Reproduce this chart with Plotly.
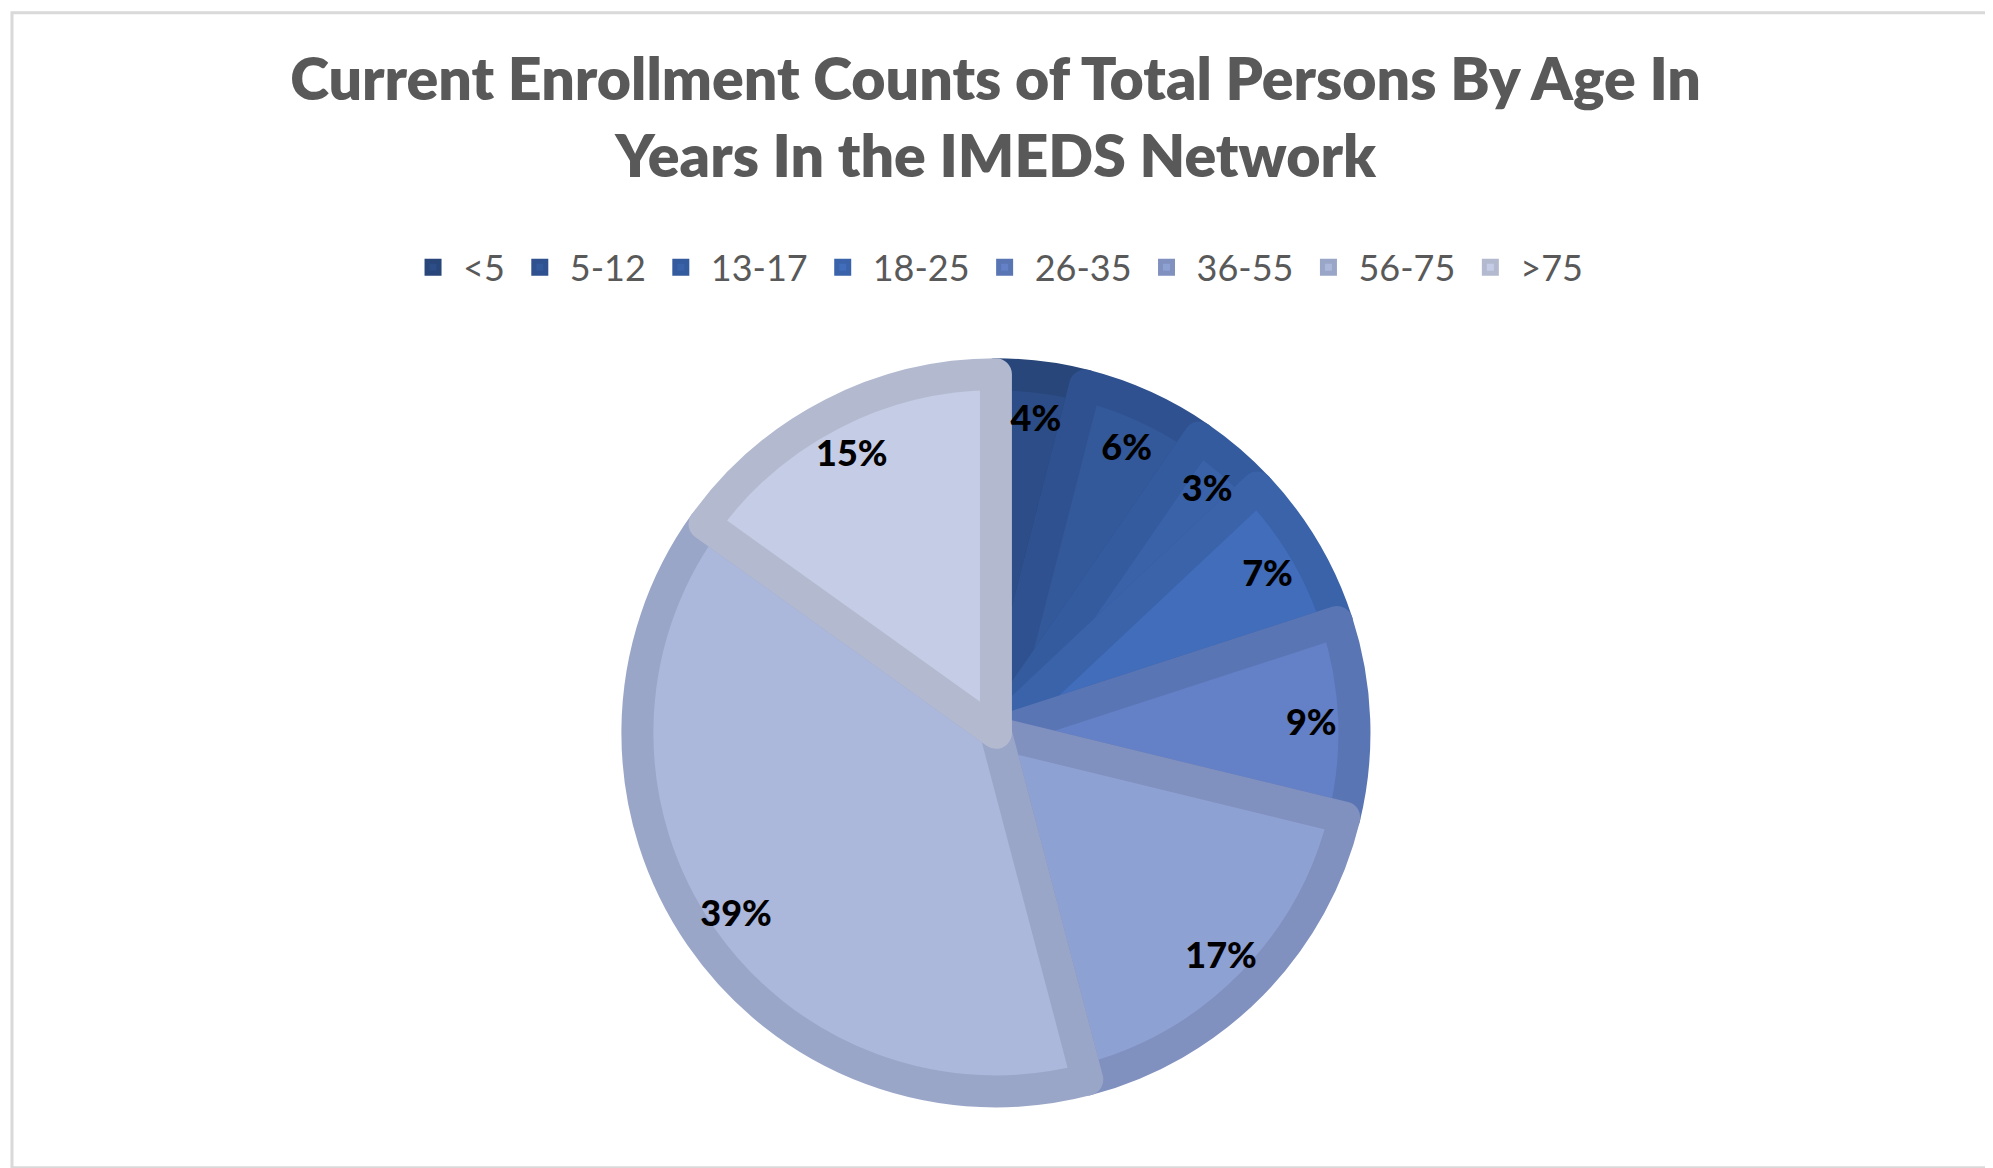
import plotly.graph_objects as go

labels = ["<5", "5-12", "13-17", "18-25", "26-35", "36-55", "56-75", ">75"]
values = [4.0, 5.6, 3.4, 7.0, 8.8, 17.1, 39.0, 15.1]
fill_colors = ["#2C4D87", "#33599B", "#3962A9", "#416DBA", "#6480C6", "#8EA1D3", "#ABB8DB", "#C5CDE6"]
edge_colors = ["#284679", "#2F518F", "#345B9E", "#3A63AA", "#5A75B4", "#8090BF", "#9AA6C8", "#B3BAD0"]

W, H = 1993, 1168
dom = dict(x=[0.3158, 0.6756], y=[0.0724, 0.6864])

fig = go.Figure()
# coloured slices with thick borders
fig.add_trace(go.Pie(
    labels=labels,
    values=values,
    sort=False,
    direction="clockwise",
    rotation=0,
    marker=dict(colors=fill_colors, line=dict(color=edge_colors, width=32)),
    textinfo="none",
    domain=dom,
    hoverinfo="label+percent",
))
# transparent ring carrying the percentage labels near the rim
fig.add_trace(go.Pie(
    labels=labels,
    values=values,
    sort=False,
    direction="clockwise",
    rotation=0,
    hole=0.76,
    marker=dict(colors=["rgba(0,0,0,0)"] * len(labels), line=dict(width=0)),
    texttemplate="%{percent:.0%}",
    textposition="inside",
    insidetextorientation="horizontal",
    textfont=dict(family="Lato", size=36, color="#000000", weight=900),
    domain=dom,
    showlegend=False,
    hoverinfo="skip",
))

fig.update_layout(
    width=W, height=H,
    margin=dict(l=0, r=0, t=0, b=0),
    paper_bgcolor="white",
    plot_bgcolor="white",
    title=dict(
        text="Current Enrollment Counts of Total Persons By Age In<br>Years In the IMEDS Network",
        x=0.4955, xanchor="center", xref="paper",
        y=0.921, yanchor="middle", yref="container",
        font=dict(family="Lato", size=59, color="#595959", weight=800),
    ),
    legend=dict(
        orientation="h",
        x=0.4955, xanchor="center",
        y=0.778, yanchor="middle",
        font=dict(family="Lato", size=36, color="#595959"),
        itemwidth=50,
        traceorder="normal",
    ),
    showlegend=True,
    shapes=[dict(type="rect", xref="paper", yref="paper",
                 x0=0.002, x1=0.9965, y0=0.007, y1=0.996,
                 line=dict(color="#D9D9D9", width=3), fillcolor="rgba(0,0,0,0)")],
)

fig.write_html("out.html")
